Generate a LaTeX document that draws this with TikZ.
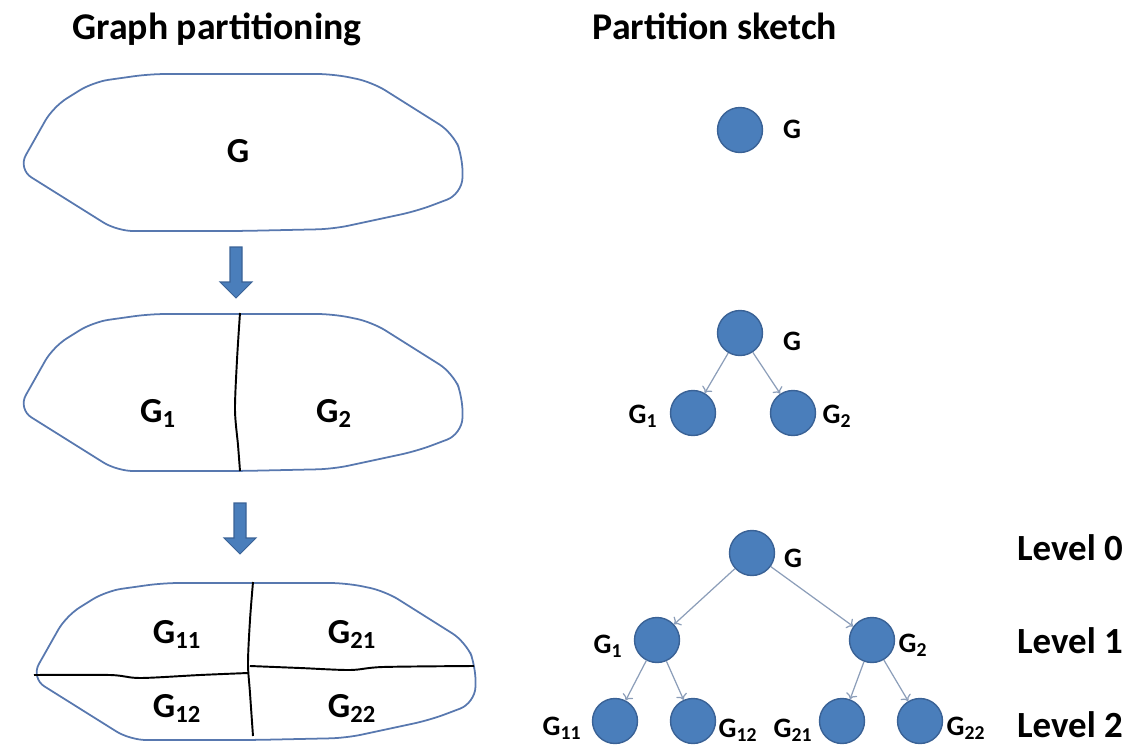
\documentclass[tikz,border=0pt]{standalone}
\usepackage{fontspec}
\setmainfont{Carlito}
\usepackage{tikz}
\usetikzlibrary{arrows.meta}

\definecolor{nodeblue}{RGB}{74,126,187}
\definecolor{nodeline}{RGB}{58,98,150}
\definecolor{blobline}{RGB}{88,120,175}
\definecolor{edgegray}{RGB}{140,158,185}

\begin{document}
\begin{tikzpicture}[x=0.02cm, y=-0.02cm,
    blob/.style={draw=blobline, line width=1pt, rounded corners=9pt},
    cut/.style={draw=black, line width=1.1pt},
    downarrow/.style={fill=nodeblue, draw=nodeline, line width=0.6pt},
    vertex/.style={circle, fill=nodeblue, draw=nodeline, line width=0.8pt, minimum size=0.9cm, inner sep=0pt},
    edge/.style={->, draw=edgegray, line width=0.7pt},
    title/.style={anchor=base, font=\fontsize{21.5}{26}\selectfont\bfseries},
    part/.style={anchor=base, font=\fontsize{20}{24}\selectfont\bfseries},
    tag/.style={anchor=base, font=\fontsize{16}{19}\selectfont\bfseries},
    level/.style={anchor=base, font=\fontsize{21}{25}\selectfont\bfseries}]

    \useasboundingbox (0,0) rectangle (1134,747);

    % Titles
    \node[title] (T1) at (217,39) {Graph partitioning};
    \node[title] (T2) at (715,39) {Partition sketch};

    % Graph outlines
    \foreach \dx/\dy in {0/0, 0/240, 13/509}
        \draw[blob, shift={(\dx,\dy)}] (240,74) -- (333,74) -- (372,82) -- (453,133)
            -- (463,158) -- (462,194) -- (417,211) -- (333,229) -- (240,231)
            -- (117,231) -- (18,169) -- (53,107) -- (93,82) -- (150,74) -- cycle;

    % Cuts
    \draw[cut] plot[smooth] coordinates {(240,313) (237,360) (235,410) (238,445) (240,471)};
    \draw[cut] plot[smooth] coordinates {(253,582) (250,620) (248,663) (250,693) (253,736)};
    \draw[cut] plot[smooth] coordinates {(34,675) (110,675) (140,678) (200,675) (248,673)};
    \draw[cut] plot[smooth] coordinates {(250,666) (300,668) (350,670) (383,667) (474,666)};

    % Down arrows
    \foreach \ax/\ay in {236/247, 240/503}
        \filldraw[downarrow] (\ax-6,\ay) -- (\ax+6,\ay) -- (\ax+6,\ay+35) -- (\ax+16,\ay+35)
            -- (\ax,\ay+51) -- (\ax-16,\ay+35) -- (\ax-6,\ay+35) -- cycle;

    % Part labels
    \node[part] (P) at (238,162) {G};
    \node[part] (P1) at (158,422) {G\textsubscript{1}};
    \node[part] (P2) at (334,422) {G\textsubscript{2}};
    \node[part] (P11) at (177,643) {G\textsubscript{11}};
    \node[part] (P21) at (352,643) {G\textsubscript{21}};
    \node[part] (P12) at (177,717) {G\textsubscript{12}};
    \node[part] (P22) at (352,717) {G\textsubscript{22}};

    % Sketch, one node
    \node[vertex] (S) at (740,130) {};
    \node[tag] (Sl) at (792,138) {G};

    % Sketch, one split
    \node[vertex] (R) at (740,333) {};
    \node[vertex] (R1) at (693,413) {};
    \node[vertex] (R2) at (793,413) {};
    \node[tag] (Rl) at (792,350) {G};
    \node[tag] (R1l) at (643,423) {G\textsubscript{1}};
    \node[tag] (R2l) at (837,423) {G\textsubscript{2}};

    \draw[edge] (R) -- (R1);
    \draw[edge] (R) -- (R2);

    % Sketch, two splits
    \node[vertex] (A) at (752,553) {};
    \node[vertex] (A1) at (657,640) {};
    \node[vertex] (A2) at (872,640) {};
    \node[vertex] (A11) at (615,721) {};
    \node[vertex] (A12) at (693,721) {};
    \node[vertex] (A21) at (842,721) {};
    \node[vertex] (A22) at (920,721) {};

    \node[tag] (Al) at (793,567) {G};
    \node[tag] (A1l) at (608,653) {G\textsubscript{1}};
    \node[tag] (A2l) at (913,652) {G\textsubscript{2}};
    \node[tag] (A11l) at (562,735) {G\textsubscript{11}};
    \node[tag] (A12l) at (738,737) {G\textsubscript{12}};
    \node[tag] (A21l) at (793,737) {G\textsubscript{21}};
    \node[tag] (A22l) at (966,735) {G\textsubscript{22}};

    \draw[edge] (A) -- (A1);
    \draw[edge] (A) -- (A2);
    \draw[edge] (A1) -- (A11);
    \draw[edge] (A1) -- (A12);
    \draw[edge] (A2) -- (A21);
    \draw[edge] (A2) -- (A22);

    % Levels
    \node[level] (L0) at (1070,560) {Level 0};
    \node[level] (L1) at (1070,653) {Level 1};
    \node[level] (L2) at (1070,737) {Level 2};
\end{tikzpicture}
\end{document}
